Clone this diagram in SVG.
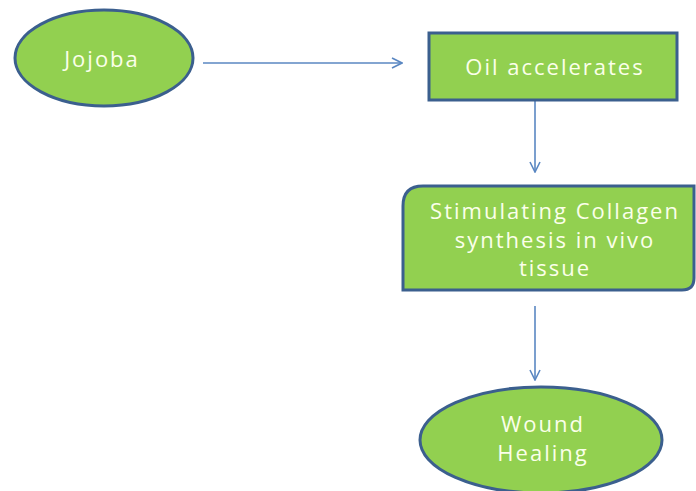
<svg xmlns="http://www.w3.org/2000/svg" width="696" height="491" viewBox="0 0 696 491">
  <defs>
    <marker id="arrow" viewBox="0 0 12 12" refX="11" refY="6" markerWidth="12" markerHeight="12" markerUnits="userSpaceOnUse" orient="auto">
      <path d="M1,1 L11,6 L1,11" fill="none" stroke="#5A87C2" stroke-width="1.6"/>
    </marker>
    <style>
      .shape { fill: #92D050; stroke: #3B5F8E; stroke-width: 3; }
      .label { font-family: "Open Sans", "Liberation Sans", sans-serif; font-size: 22px; letter-spacing: 2px; fill: #FBFFEA; text-anchor: middle; }
      .conn { stroke: #5A87C2; stroke-width: 1.6; fill: none; marker-end: url(#arrow); }
    </style>
  </defs>
  <rect width="696" height="491" fill="#FFFFFF"/>

  <g id="connectors">
    <line class="conn" x1="203" y1="63" x2="402" y2="63"/>
    <line class="conn" x1="535" y1="100" x2="535" y2="172"/>
    <line class="conn" x1="535" y1="306" x2="535" y2="380"/>
  </g>

  <g id="jojoba">
    <ellipse class="shape" cx="104" cy="58" rx="89" ry="48"/>
    <text class="label" x="102" y="67">Jojoba</text>
  </g>

  <g id="oil-accelerates">
    <rect class="shape" x="429" y="33" width="248" height="67"/>
    <text class="label" x="555" y="75">Oil accelerates</text>
  </g>

  <g id="collagen-synthesis">
    <path class="shape" d="M423,186 L694,186 L694,278 Q694,290 682,290 L403,290 L403,206 Q403,186 423,186 Z"/>
    <text class="label" x="555" y="219">Stimulating Collagen</text>
    <text class="label" x="555" y="248">synthesis in vivo</text>
    <text class="label" x="555" y="276">tissue</text>
  </g>

  <g id="wound-healing">
    <ellipse class="shape" cx="541" cy="440" rx="121" ry="53"/>
    <text class="label" x="543" y="432">Wound</text>
    <text class="label" x="543" y="461">Healing</text>
  </g>
</svg>
